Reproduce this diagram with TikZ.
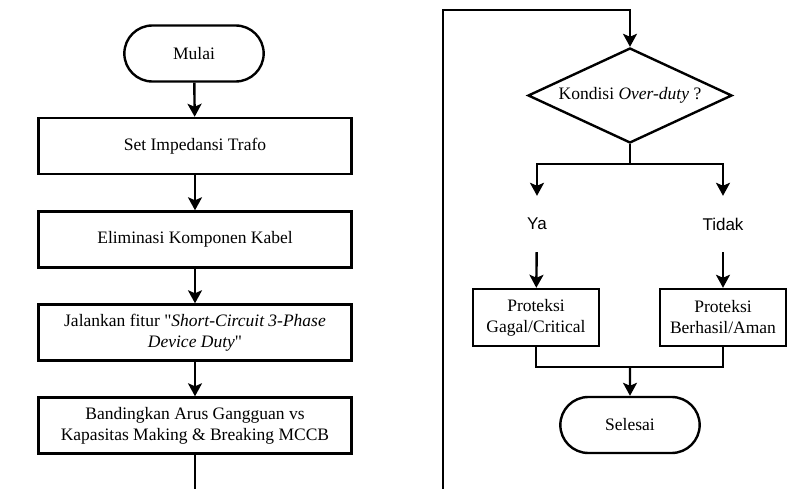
\documentclass[tikz,border=0pt]{standalone}
\usepackage{fontspec}
\setmainfont{Liberation Serif}
\newfontfamily\arialfont{Liberation Sans}
\usetikzlibrary{shapes.misc,shapes.geometric,arrows.meta}
\newcommand\kutiplurus{{\XeTeXglyph\the\XeTeXcharglyph"0022\relax}}

\tikzset{
	garis/.style={line width=2.4pt},
	alur/.style={line width=2.4pt, -{Stealth[length=13pt, width=14pt, inset=3pt]}},
	proses/.style={draw, line width=2.4pt, rectangle, align=center, inner sep=2pt, minimum height=56pt},
	terminal/.style={draw, line width=2.4pt, rounded rectangle, minimum width=146pt, minimum height=56pt},
	keputusan/.style={draw, line width=2.4pt, diamond, aspect=2.15, minimum width=204pt, minimum height=95pt, inner sep=0pt},
	pilihan/.style={font=\arialfont\fontsize{17}{20}\selectfont, minimum height=56pt, inner sep=0pt}
}

\begin{document}
\begin{tikzpicture}[x=1pt, y=-1pt, font=\fontsize{17.5}{21}\selectfont]
			\useasboundingbox (0,0) rectangle (804,489);
			% kolom kiri
			\node [terminal] (mulai) at (194,53.5) {Mulai};
			\node [proses, minimum width=313pt] (trafo) at (195,146) {Set Impedansi Trafo};
			\node [proses, minimum width=313pt] (kabel) at (195,239.5) {Eliminasi Komponen Kabel};
			\node [proses, minimum width=313pt] (fitur) at (195,332.5) {Jalankan fitur \kutiplurus\textit{Short-Circuit 3-Phase}\\\textit{Device Duty}\kutiplurus};
			\node [proses, minimum width=313pt] (banding) at (195,425.5) {Bandingkan Arus Gangguan vs\\Kapasitas Making \& Breaking MCCB};
			\draw [alur] (mulai) -- (trafo);
			\draw [alur] (trafo) -- (kabel);
			\draw [alur] (kabel) -- (fitur);
			\draw [alur] (fitur) -- (banding);
			\coordinate (bawahkiri) at (195,489);
			\draw [garis] (banding) -- (bawahkiri);
			% kolom kanan
			\coordinate (bawahkanan) at (443,489);
			\coordinate (atas) at (443,10);
			\node [keputusan] (kondisi) at (630,95.5) {Kondisi \textit{Over-duty} ?};
			\draw [alur] (bawahkanan) -- (atas) -| (kondisi.north);
			\coordinate (cabang) at (630,164);
			\node [pilihan] (ya) at (537,224) {Ya};
			\node [pilihan] (tidak) at (723,224) {Tidak};
			\draw [garis] (kondisi.south) -- (cabang);
			\draw [alur] (cabang) -| (ya.north);
			\draw [alur] (cabang) -| (tidak.north);
			\node [proses, minimum width=126pt, minimum height=57pt] (gagal) at (536,317.5) {Proteksi\\Gagal/Critical};
			\node [proses, minimum width=126pt, minimum height=57pt] (aman) at (723,317.5) {Proteksi\\Berhasil/Aman};
			\draw [alur] (ya) -- (gagal);
			\draw [alur] (tidak) -- (aman);
			\coordinate (gabung) at (630,367);
			\node [terminal] (selesai) at (630,425) {Selesai};
			\draw [garis] (gagal.south) |- (gabung) -| (aman.south);
			\draw [alur] (gabung) -- (selesai);
\end{tikzpicture}
\end{document}
